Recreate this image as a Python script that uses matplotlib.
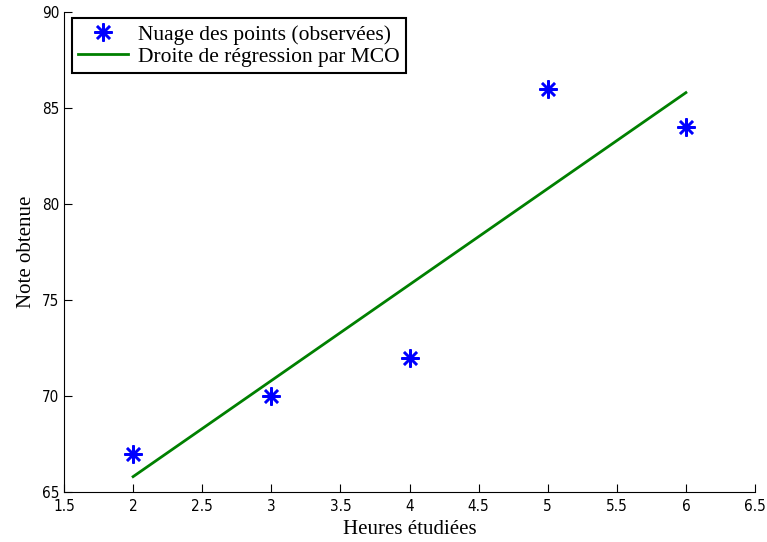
import matplotlib
matplotlib.use("Agg")
import matplotlib.pyplot as plt

heures = [2, 3, 4, 5, 6]
notes = [67, 70, 72, 86, 84]
# droite MCO (extrémités)
reg_x = [2, 6]
reg_y = [65.8, 85.8]

xticks = [1.5, 2, 2.5, 3, 3.5, 4, 4.5, 5, 5.5, 6, 6.5]
yticks = [65, 70, 75, 80, 85, 90]

fig = plt.figure(figsize=(7.67, 5.42), dpi=100)
ax = fig.add_axes([64/767, 50/542, 691/767, 480/542])

ax.plot(heures, notes, linestyle="none", marker=(8, 2, 0), color="blue",
        markersize=13, markeredgewidth=1.8, label="Nuage des points (observées)")
ax.plot(reg_x, reg_y, color="green", linewidth=2, label="Droite de régression par MCO")

ax.set_xlim(1.5, 6.5)
ax.set_ylim(65, 90)
ax.set_xticks(xticks)
ax.set_xticklabels([f"{v:g}" for v in xticks])
ax.set_yticks(yticks)

for s in ["top", "right"]:
    ax.spines[s].set_visible(False)
ax.tick_params(direction="in", length=6, width=0.8, labelsize=11)
ax.tick_params(axis="x", pad=5)
for lab in ax.get_xticklabels() + ax.get_yticklabels():
    lab.set_fontfamily("DejaVu Sans")
    lab.set_fontstretch("condensed")

serif = "Liberation Serif"
ax.set_xlabel("Heures étudiées", fontsize=15, family=serif, labelpad=4)
ax.set_ylabel("Note obtenue", fontsize=15, family=serif, labelpad=4)

leg = ax.legend(loc="upper left", prop={"family": serif, "size": 15.5},
                fancybox=False, edgecolor="black", framealpha=1,
                bbox_to_anchor=(8/691, 1 - 6/480), borderaxespad=0,
                handlelength=2.3, borderpad=0.3,
                labelspacing=0.1, handletextpad=0.45)
leg.get_frame().set_linewidth(1.5)

fig.savefig("out.png", dpi=100)
